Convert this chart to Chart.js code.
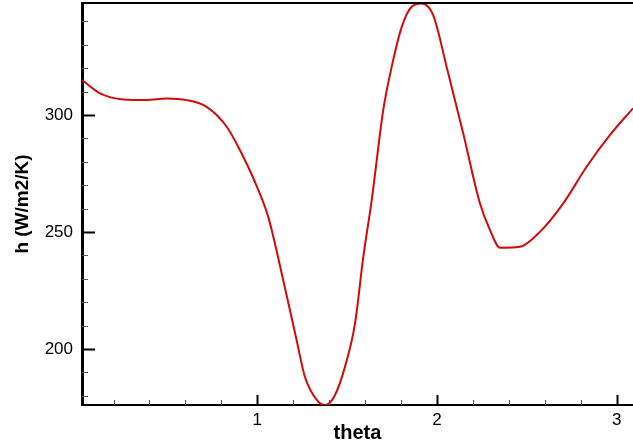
<!DOCTYPE html>
<html>
<head>
<meta charset="utf-8">
<title>h vs theta</title>
<script src="https://cdn.jsdelivr.net/npm/chart.js@4.4.1/dist/chart.umd.min.js"></script>
<style>
  html, body { margin: 0; padding: 0; background: #fff; }
  #wrap { width: 633px; height: 447px; }
</style>
</head>
<body>
<div id="wrap"><canvas id="hChart" width="633" height="447"></canvas></div>
<script>
// ---------- DATA ----------
const theta = [0.025, 0.125, 0.254, 0.385, 0.496, 0.607, 0.718, 0.830, 0.922, 0.978,
               1.061, 1.136, 1.219, 1.265, 1.339, 1.377, 1.432, 1.488, 1.544, 1.590,
               1.637, 1.701, 1.748, 1.804, 1.859, 1.915, 1.979, 2.054, 2.146, 2.239,
               2.295, 2.351, 2.462, 2.573, 2.703, 2.833, 2.963, 3.091];
const hValues = [315.0, 309.3, 306.7, 306.4, 307.1, 306.4, 303.5, 295.0, 282.2, 273.0,
                 256.5, 232.3, 203.8, 188.2, 177.5, 176.0, 180.3, 192.4, 211.0, 239.4,
                 263.7, 302.1, 320.6, 337.7, 346.3, 347.7, 342.7, 320.6, 292.2, 262.3,
                 250.9, 243.3, 243.7, 250.1, 262.3, 277.9, 291.5, 302.9];
const xTicks = [1, 2, 3];
const yTicks = [200, 250, 300];
const xMinorStep = 0.2;
const yMinorStep = 10;

// ---------- INWARD TICK MARKS + TOP FRAME ----------
const tickMarks = {
  id: "tickMarks",
  afterDraw(chart) {
    const { ctx, chartArea: a, scales: { x, y } } = chart;
    ctx.save();
    ctx.lineCap = "butt";

    // x minor + major
    for (let v = Math.ceil(x.min / xMinorStep) * xMinorStep; v <= x.max + 1e-9; v += xMinorStep) {
      const px = Math.round(x.getPixelForValue(v)) + 0.5;
      const major = Math.abs(v - Math.round(v)) < 1e-6;
      ctx.strokeStyle = major ? "#000" : "#555";
      ctx.lineWidth = major ? 2 : 1;
      ctx.beginPath();
      ctx.moveTo(px, a.bottom);
      ctx.lineTo(px, a.bottom - (major ? 10 : 5));
      ctx.stroke();
    }

    // y minor + major
    for (let v = Math.ceil(y.min / yMinorStep) * yMinorStep; v <= y.max + 1e-9; v += yMinorStep) {
      const py = Math.round(y.getPixelForValue(v)) + 0.5;
      const major = v % 50 === 0;
      ctx.strokeStyle = major ? "#000" : "#555";
      ctx.lineWidth = major ? 2 : 1;
      ctx.beginPath();
      ctx.moveTo(a.left, py);
      ctx.lineTo(a.left + (major ? 13 : 6), py);
      ctx.stroke();
    }

    // top frame line
    ctx.strokeStyle = "#000";
    ctx.lineWidth = 2;
    ctx.beginPath();
    ctx.moveTo(a.left, a.top);
    ctx.lineTo(a.right, a.top);
    ctx.stroke();
    ctx.restore();
  }
};

const FONT = "'Liberation Sans', Arial, sans-serif";

// ---------- CHART ----------
const ctx = document.getElementById("hChart").getContext("2d");
new Chart(ctx, {
  type: "line",
  data: {
    datasets: [{
      data: theta.map((t, i) => ({ x: t, y: hValues[i] })),
      borderColor: "#d10a0a",
      borderWidth: 2,
      pointRadius: 0,
      cubicInterpolationMode: "monotone",
      fill: false
    }]
  },
  options: {
    responsive: false,
    animation: false,
    layout: { padding: { top: 3, right: 0, left: 0, bottom: 0 } },
    plugins: { legend: { display: false }, tooltip: { enabled: false } },
    scales: {
      x: {
        type: "linear",
        min: 0.0245,
        max: 3.091,
        afterBuildTicks: s => { s.ticks = xTicks.map(v => ({ value: v })); },
        afterFit: s => { s.height = 42; s.paddingLeft = 0; s.paddingRight = 0; },
        grid: { display: false, drawTicks: false },
        border: { display: true, color: "#000", width: 2 },
        ticks: {
          color: "#000",
          padding: 5,
          font: { family: FONT, size: 17 },
          callback: v => v
        },
        title: {
          display: true,
          text: "theta",
          color: "#000",
          padding: { top: 0, bottom: 2 },
          font: { family: FONT, size: 20, weight: "bold" }
        }
      },
      y: {
        type: "linear",
        min: 176.1,
        max: 347.9,
        afterBuildTicks: s => { s.ticks = yTicks.map(v => ({ value: v })); },
        afterFit: s => { s.width = 82; s.paddingTop = 0; s.paddingBottom = 0; },
        grid: { display: false, drawTicks: false },
        border: { display: true, color: "#000", width: 3 },
        ticks: {
          color: "#000",
          padding: 9,
          font: { family: FONT, size: 17 }
        },
        title: {
          display: true,
          text: "h (W/m2/K)",
          color: "#000",
          padding: { top: 11, bottom: 0 },
          font: { family: FONT, size: 19, weight: "bold" }
        }
      }
    }
  },
  plugins: [tickMarks]
});
</script>
</body>
</html>
